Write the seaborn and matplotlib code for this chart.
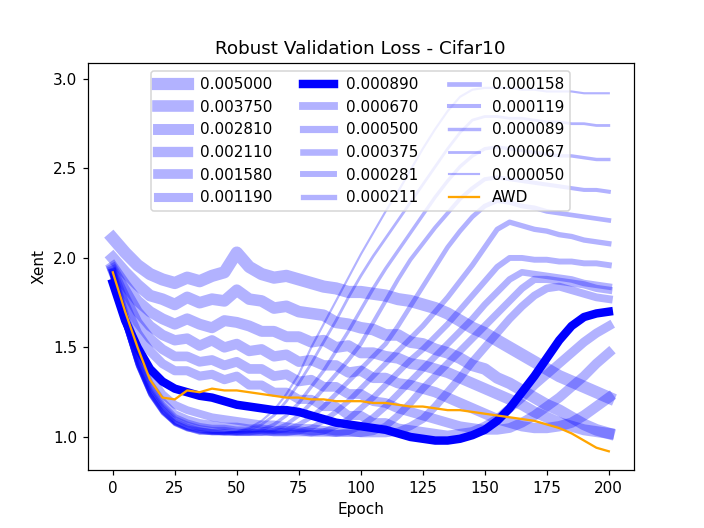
import numpy as np
import matplotlib
matplotlib.use("Agg")
import matplotlib.pyplot as plt
import seaborn as sns

# epochs sampled every 5
epochs = list(range(0, 201, 5))

labels = ["0.005000", "0.003750", "0.002810", "0.002110", "0.001580", "0.001190",
          "0.000890", "0.000670", "0.000500", "0.000375", "0.000281", "0.000211",
          "0.000158", "0.000119", "0.000089", "0.000067", "0.000050"]

wd_005000 = [2.11, 2.03, 1.96, 1.91, 1.88, 1.86, 1.89, 1.87, 1.90, 1.92, 2.03, 1.95, 1.91, 1.89,
             1.90, 1.88, 1.86, 1.84, 1.83, 1.81, 1.81, 1.80, 1.79, 1.77, 1.76, 1.74, 1.72, 1.69,
             1.65, 1.61, 1.58, 1.54, 1.50, 1.46, 1.42, 1.38, 1.34, 1.31, 1.28, 1.25, 1.22]
wd_003750 = [2.00, 1.92, 1.85, 1.79, 1.77, 1.74, 1.78, 1.75, 1.77, 1.76, 1.82, 1.77, 1.76, 1.72,
             1.73, 1.70, 1.69, 1.68, 1.64, 1.63, 1.61, 1.60, 1.57, 1.57, 1.53, 1.52, 1.49, 1.47,
             1.44, 1.40, 1.38, 1.33, 1.30, 1.26, 1.22, 1.18, 1.15, 1.11, 1.07, 1.04, 1.02]
wd_002810 = [1.95, 1.85, 1.76, 1.70, 1.66, 1.63, 1.66, 1.63, 1.61, 1.65, 1.64, 1.62, 1.59, 1.59,
             1.56, 1.56, 1.53, 1.54, 1.50, 1.51, 1.47, 1.47, 1.45, 1.44, 1.41, 1.40, 1.38, 1.36,
             1.33, 1.30, 1.27, 1.24, 1.21, 1.18, 1.14, 1.11, 1.08, 1.06, 1.04, 1.03, 1.02]
wd_002110 = [1.94, 1.82, 1.70, 1.62, 1.57, 1.54, 1.55, 1.51, 1.54, 1.50, 1.52, 1.48, 1.49, 1.45,
             1.46, 1.42, 1.43, 1.40, 1.40, 1.36, 1.37, 1.33, 1.33, 1.30, 1.29, 1.27, 1.25, 1.22,
             1.19, 1.16, 1.13, 1.10, 1.08, 1.06, 1.05, 1.05, 1.06, 1.08, 1.12, 1.17, 1.22]
wd_001580 = [1.93, 1.78, 1.64, 1.55, 1.49, 1.45, 1.45, 1.42, 1.43, 1.40, 1.42, 1.38, 1.38, 1.34,
             1.35, 1.31, 1.32, 1.28, 1.28, 1.24, 1.24, 1.20, 1.19, 1.16, 1.14, 1.12, 1.10, 1.08,
             1.06, 1.05, 1.04, 1.04, 1.05, 1.08, 1.12, 1.17, 1.22, 1.28, 1.34, 1.41, 1.47]
wd_001190 = [1.92, 1.74, 1.58, 1.48, 1.41, 1.37, 1.37, 1.34, 1.35, 1.32, 1.34, 1.29, 1.29, 1.25,
             1.25, 1.21, 1.21, 1.17, 1.17, 1.12, 1.12, 1.08, 1.08, 1.05, 1.04, 1.03, 1.02, 1.01,
             1.02, 1.03, 1.06, 1.10, 1.16, 1.22, 1.29, 1.35, 1.41, 1.47, 1.53, 1.58, 1.62]
wd_000890 = [1.86, 1.65, 1.50, 1.38, 1.31, 1.27, 1.25, 1.23, 1.22, 1.20, 1.18, 1.17, 1.16, 1.15,
             1.15, 1.14, 1.12, 1.10, 1.08, 1.07, 1.06, 1.05, 1.04, 1.02, 1.00, 0.99, 0.98, 0.98,
             0.99, 1.01, 1.04, 1.09, 1.16, 1.25, 1.34, 1.44, 1.54, 1.62, 1.67, 1.69, 1.70]
wd_000670 = [1.92, 1.68, 1.48, 1.34, 1.24, 1.18, 1.15, 1.13, 1.11, 1.10, 1.09, 1.08, 1.07, 1.07,
             1.06, 1.05, 1.05, 1.04, 1.03, 1.03, 1.02, 1.02, 1.02, 1.03, 1.06, 1.10, 1.17, 1.25,
             1.33, 1.42, 1.50, 1.58, 1.66, 1.73, 1.79, 1.83, 1.84, 1.82, 1.80, 1.78, 1.77]
wd_000500 = [1.92, 1.66, 1.45, 1.30, 1.20, 1.13, 1.10, 1.08, 1.07, 1.06, 1.06, 1.05, 1.05, 1.04,
             1.04, 1.04, 1.03, 1.03, 1.02, 1.02, 1.02, 1.03, 1.06, 1.12, 1.19, 1.27, 1.34, 1.41,
             1.48, 1.55, 1.62, 1.69, 1.76, 1.83, 1.88, 1.88, 1.87, 1.86, 1.85, 1.83, 1.82]
wd_000375 = [1.91, 1.65, 1.44, 1.28, 1.18, 1.11, 1.08, 1.06, 1.05, 1.05, 1.04, 1.04, 1.04, 1.03,
             1.03, 1.03, 1.02, 1.02, 1.02, 1.03, 1.06, 1.11, 1.17, 1.24, 1.31, 1.38, 1.45, 1.52,
             1.59, 1.66, 1.74, 1.81, 1.88, 1.92, 1.91, 1.90, 1.89, 1.88, 1.86, 1.85, 1.84]
wd_000281 = [1.91, 1.64, 1.43, 1.27, 1.17, 1.10, 1.07, 1.05, 1.04, 1.04, 1.03, 1.03, 1.03, 1.02,
             1.02, 1.02, 1.02, 1.03, 1.06, 1.10, 1.16, 1.22, 1.29, 1.36, 1.43, 1.49, 1.56, 1.63,
             1.71, 1.79, 1.87, 1.95, 2.00, 2.00, 1.99, 1.99, 1.98, 1.98, 1.97, 1.97, 1.96]
wd_000211 = [1.91, 1.64, 1.42, 1.26, 1.16, 1.09, 1.06, 1.04, 1.03, 1.03, 1.02, 1.02, 1.02, 1.02,
             1.02, 1.03, 1.05, 1.09, 1.14, 1.20, 1.27, 1.34, 1.41, 1.48, 1.55, 1.62, 1.70, 1.78,
             1.87, 1.96, 2.06, 2.16, 2.20, 2.18, 2.16, 2.15, 2.13, 2.12, 2.10, 2.09, 2.08]
wd_000158 = [1.90, 1.63, 1.41, 1.25, 1.15, 1.08, 1.05, 1.04, 1.03, 1.02, 1.02, 1.02, 1.02, 1.03,
             1.04, 1.07, 1.11, 1.17, 1.24, 1.31, 1.38, 1.45, 1.52, 1.62, 1.73, 1.84, 1.95, 2.06,
             2.15, 2.23, 2.29, 2.32, 2.31, 2.29, 2.28, 2.26, 2.25, 2.24, 2.23, 2.22, 2.21]
wd_000119 = [1.90, 1.63, 1.40, 1.24, 1.14, 1.08, 1.05, 1.03, 1.02, 1.02, 1.02, 1.02, 1.03, 1.04,
             1.07, 1.12, 1.19, 1.27, 1.35, 1.43, 1.52, 1.64, 1.76, 1.88, 1.99, 2.08, 2.17, 2.25,
             2.33, 2.39, 2.44, 2.45, 2.44, 2.43, 2.42, 2.41, 2.40, 2.39, 2.38, 2.38, 2.37]
wd_000089 = [1.90, 1.62, 1.40, 1.24, 1.14, 1.07, 1.04, 1.03, 1.02, 1.02, 1.02, 1.03, 1.04, 1.07,
             1.12, 1.19, 1.28, 1.37, 1.48, 1.59, 1.71, 1.83, 1.94, 2.04, 2.14, 2.24, 2.34, 2.43,
             2.51, 2.57, 2.61, 2.62, 2.61, 2.60, 2.59, 2.58, 2.57, 2.57, 2.56, 2.55, 2.55]
wd_000067 = [1.89, 1.62, 1.39, 1.23, 1.13, 1.07, 1.04, 1.02, 1.02, 1.02, 1.03, 1.04, 1.07, 1.12,
             1.20, 1.30, 1.41, 1.53, 1.65, 1.78, 1.90, 2.01, 2.11, 2.21, 2.31, 2.41, 2.51, 2.61,
             2.70, 2.77, 2.79, 2.79, 2.78, 2.78, 2.77, 2.76, 2.76, 2.75, 2.75, 2.74, 2.74]
wd_000050 = [1.89, 1.61, 1.39, 1.23, 1.13, 1.07, 1.04, 1.02, 1.02, 1.02, 1.03, 1.05, 1.09, 1.15,
             1.24, 1.35, 1.50, 1.63, 1.76, 1.89, 2.02, 2.14, 2.26, 2.37, 2.49, 2.61, 2.72, 2.82,
             2.90, 2.94, 2.95, 2.95, 2.95, 2.94, 2.94, 2.93, 2.93, 2.93, 2.92, 2.92, 2.92]
awd = [1.92, 1.70, 1.50, 1.32, 1.22, 1.21, 1.26, 1.25, 1.27, 1.26, 1.26, 1.25, 1.24, 1.23,
       1.22, 1.22, 1.21, 1.21, 1.20, 1.20, 1.20, 1.19, 1.19, 1.18, 1.17, 1.17, 1.16, 1.15,
       1.15, 1.14, 1.13, 1.12, 1.11, 1.10, 1.09, 1.07, 1.05, 1.02, 0.98, 0.94, 0.92]

series = [wd_005000, wd_003750, wd_002810, wd_002110, wd_001580, wd_001190, wd_000890,
          wd_000670, wd_000500, wd_000375, wd_000281, wd_000211, wd_000158, wd_000119,
          wd_000089, wd_000067, wd_000050]

fig, ax = plt.subplots(figsize=(6.4, 4.8), dpi=110)

# thicker lines for larger weight decay, the chosen one in solid blue
widths = np.linspace(8, 1, len(series) + 1)
for i, (lab, vals) in enumerate(zip(labels, series)):
    alpha = 1.0 if lab == "0.000890" else 0.3
    sns.lineplot(x=epochs, y=vals, ax=ax, color="blue", lw=widths[i], alpha=alpha, label=lab)

sns.lineplot(x=epochs, y=awd, ax=ax, color="orange", lw=1.5, label="AWD")

ax.set_ylim(0.816, 3.087)
ax.set_title("Robust Validation Loss - Cifar10")
ax.set_xlabel("Epoch")
ax.set_ylabel("Xent")
ax.legend(ncol=3, loc="upper center")

fig.savefig("out.png", dpi=110)
